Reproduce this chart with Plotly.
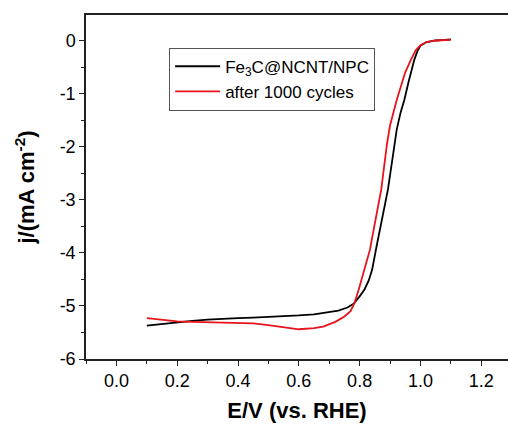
import plotly.graph_objects as go

# Fe3C@NCNT/NPC (initial)
black_E = [0.10, 0.15, 0.20, 0.25, 0.30, 0.35, 0.40, 0.45, 0.50, 0.55, 0.60, 0.65, 0.70, 0.73,
           0.76, 0.78, 0.80, 0.816, 0.83, 0.841, 0.855, 0.87, 0.893, 0.91, 0.922, 0.935, 0.947,
           0.96, 0.98, 0.99, 1.00, 1.02, 1.05, 1.08, 1.10]
black_j = [-5.37, -5.34, -5.30, -5.28, -5.26, -5.24, -5.23, -5.22, -5.21, -5.20, -5.18, -5.16, -5.12, -5.09,
           -5.03, -4.96, -4.82, -4.69, -4.52, -4.32, -3.90, -3.45, -2.81, -2.15, -1.68, -1.35, -1.12,
           -0.80, -0.36, -0.20, -0.10, -0.03, 0.00, 0.01, 0.02]

# after 1000 cycles
red_E = [0.10, 0.15, 0.20, 0.25, 0.30, 0.35, 0.40, 0.45, 0.50, 0.55, 0.60, 0.65, 0.68, 0.72,
         0.75, 0.77, 0.783, 0.797, 0.816, 0.834, 0.84, 0.871, 0.89, 0.90, 0.922, 0.95,
         0.969, 0.985, 1.00, 1.02, 1.05, 1.10]
red_j = [-5.23, -5.26, -5.29, -5.30, -5.31, -5.32, -5.32, -5.33, -5.36, -5.40, -5.44, -5.42, -5.39, -5.30,
         -5.20, -5.10, -4.95, -4.69, -4.32, -3.94, -3.75, -2.81, -1.95, -1.60, -1.12, -0.60,
         -0.36, -0.18, -0.09, -0.03, 0.00, 0.01]

series_names = ["Fe<sub>3</sub>C@NCNT/NPC", "after 1000 cycles"]

y_tickvals = [-6, -5, -4, -3, -2, -1, 0]
y_ticktext = ["-6", "-5", "-4", "-3", "-2", "-1", "0"]
x_tickvals = [0.0, 0.2, 0.4, 0.6, 0.8, 1.0, 1.2]
x_ticktext = ["0.0", "0.2", "0.4", "0.6", "0.8", "1.0", "1.2"]

FONT = "Liberation Sans, Arial, sans-serif"

fig = go.Figure()
fig.add_trace(go.Scatter(x=black_E, y=black_j, mode="lines", name=series_names[0],
                         legendgroup="a", line=dict(color="black", width=1.8)))
fig.add_trace(go.Scatter(x=red_E, y=red_j, mode="lines", name=series_names[1],
                         legendgroup="b", line=dict(color="#e8131b", width=1.8)))

fig.update_layout(
    width=508, height=425,
    margin=dict(l=86, r=0, t=15, b=66),
    paper_bgcolor="white", plot_bgcolor="white",
    font=dict(family=FONT, color="black", size=18),
    showlegend=True,
    legend=dict(x=0.197, y=0.905, xanchor="left", yanchor="top",
                bordercolor="#555555", borderwidth=1, bgcolor="white",
                font=dict(size=17, family=FONT), tracegroupgap=0, itemwidth=45),
    xaxis=dict(range=[-0.1, 1.288], tickvals=x_tickvals, ticktext=x_ticktext,
               showgrid=False, zeroline=False, showline=True, linecolor="#222", linewidth=1.5,
               mirror=True, ticks="outside", ticklen=5, tickcolor="#222",
               minor=dict(dtick=0.1, tick0=0, ticks="outside", ticklen=3, tickcolor="#222"),
               title=dict(text="<b>E/V (vs. RHE)</b>", font=dict(size=22), standoff=12),
               tickfont=dict(size=18)),
    yaxis=dict(range=[-6, 0.48], tickvals=y_tickvals, ticktext=y_ticktext,
               showgrid=False, zeroline=False, showline=True, linecolor="#222", linewidth=1.5,
               ticks="outside", ticklen=5, tickcolor="#222",
               minor=dict(dtick=0.5, tick0=0, ticks="outside", ticklen=3, tickcolor="#222"),
               title=dict(text="<b>j/(mA cm<sup>-2</sup>)</b>", font=dict(size=22), standoff=19),
               tickfont=dict(size=18)),
)

fig.write_html("out.html")
